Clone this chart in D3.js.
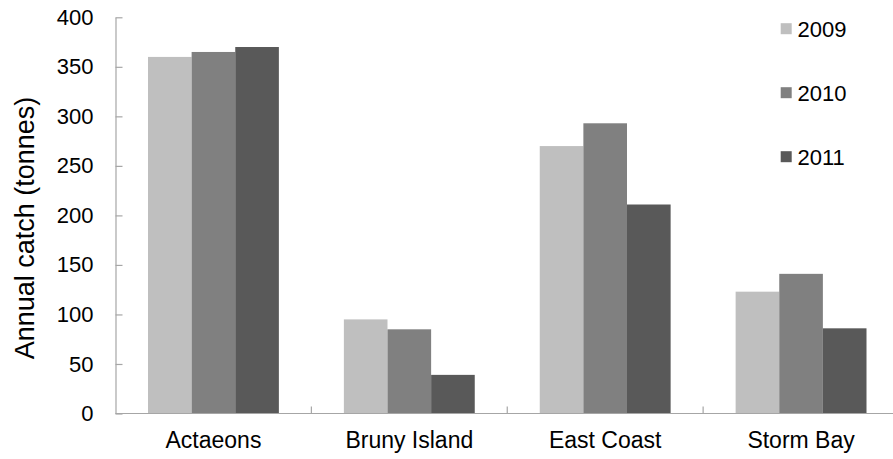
<!DOCTYPE html>
<html><head><meta charset="utf-8">
<script src="https://cdn.jsdelivr.net/npm/d3@7"></script>
<style>body{margin:0;background:#fff}svg{display:block;font-family:"Liberation Sans",Arial,sans-serif}</style>
</head><body><svg id="c" width="893" height="459"></svg>
<script>
const categories = ["Actaeons", "Bruny Island", "East Coast", "Storm Bay"];
const seriesNames = ["2009", "2010", "2011"];
const values2009 = [360, 95, 270, 123];
const values2010 = [365, 85, 293, 141];
const values2011 = [370, 39, 211, 86];
const yTicks = [0, 50, 100, 150, 200, 250, 300, 350, 400];
const colors = ["#bfbfbf", "#808080", "#595959"];

const series = [values2009, values2010, values2011];
const svg = d3.select("#c");
const mLeft = 115.5, mRight = 899, mTop = 17.3, mBottom = 413.5;

const x0 = d3.scaleBand().domain(categories).range([mLeft, mRight]).paddingInner(0).paddingOuter(0);
const x1 = d3.scaleBand().domain(seriesNames).range([0, x0.bandwidth()]).paddingInner(0).paddingOuter(0.745);
const y = d3.scaleLinear().domain([0, 400]).range([mBottom, mTop]);

// bars
categories.forEach((c, ci) => {
  seriesNames.forEach((s, si) => {
    svg.append("rect")
      .attr("x", x0(c) + x1(s))
      .attr("y", y(series[si][ci]))
      .attr("width", x1.bandwidth())
      .attr("height", y(0) - y(series[si][ci]))
      .attr("fill", colors[si]);
  });
});

// y axis
const yAxis = d3.axisLeft(y).tickValues(yTicks).tickSizeInner(-7).tickSizeOuter(0).tickPadding(22);
const gy = svg.append("g").attr("transform", `translate(${mLeft},0)`).call(yAxis);
gy.select(".domain").attr("stroke", "#a6a6a6").attr("stroke-width", 1.2);
gy.selectAll(".tick line").attr("stroke", "#a6a6a6").attr("stroke-width", 1.2);
gy.selectAll(".tick text").attr("font-size", 22).attr("fill", "#000").attr("font-family", "Liberation Sans, Arial, sans-serif");

// x axis
svg.append("line").attr("x1", mLeft).attr("x2", 893).attr("y1", y(0)).attr("y2", y(0))
  .attr("stroke", "#a6a6a6").attr("stroke-width", 1.2);
categories.slice(1).forEach(c => {
  svg.append("line").attr("x1", x0(c)).attr("x2", x0(c)).attr("y1", y(0)).attr("y2", y(0) - 7)
    .attr("stroke", "#a6a6a6").attr("stroke-width", 1.2);
});
categories.forEach(c => {
  svg.append("text").attr("x", x0(c) + x0.bandwidth() / 2).attr("y", 448.3)
    .attr("text-anchor", "middle").attr("font-size", 23).attr("fill", "#000").text(c);
});

// y title
svg.append("text").attr("transform", "translate(33.5,228) rotate(-90)")
  .attr("text-anchor", "middle").attr("font-size", 27).attr("fill", "#000")
  .text("Annual catch (tonnes)");

// legend
seriesNames.forEach((s, i) => {
  const cy = 28.7 + i * 64;
  svg.append("rect").attr("x", 780.7).attr("y", cy - 5.5).attr("width", 11).attr("height", 11).attr("fill", colors[i]);
  svg.append("text").attr("x", 797.5).attr("y", cy + 8).attr("font-size", 22).attr("fill", "#000").text(s);
});
</script></body></html>
